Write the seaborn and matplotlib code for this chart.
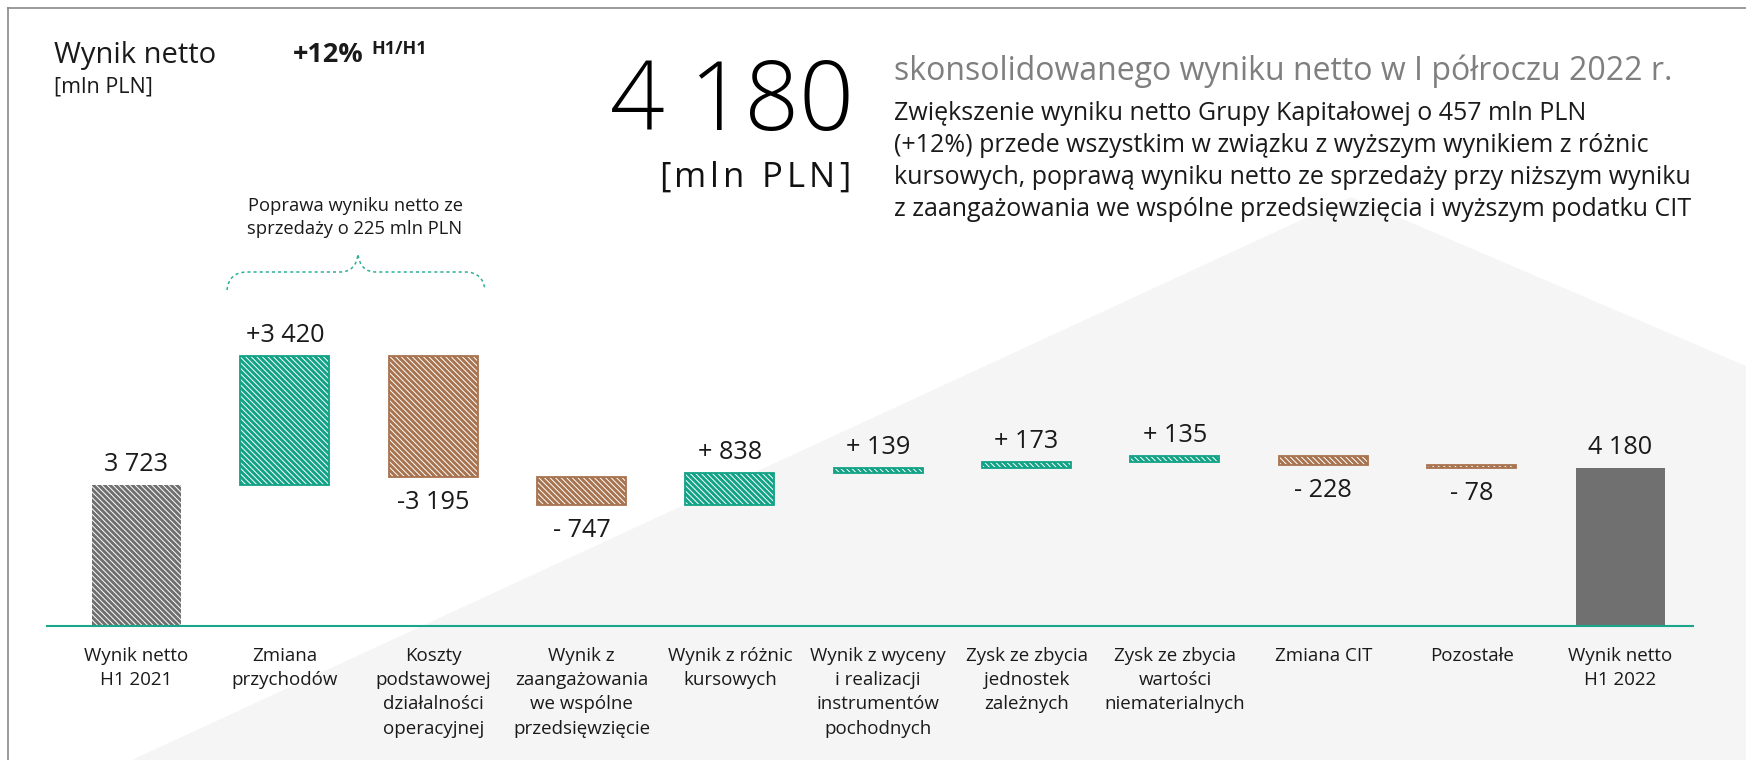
import matplotlib
matplotlib.use("Agg")
import matplotlib.pyplot as plt
from matplotlib.patches import Polygon, Rectangle, PathPatch
from matplotlib.path import Path
import numpy as np
import seaborn as sns

# ---- data -------------------------------------------------------------
categories = [
    "Wynik netto\nH1 2021",
    "Zmiana\nprzychodów",
    "Koszty\npodstawowej\ndziałalności\noperacyjnej",
    "Wynik z\nzaangażowania\nwe wspólne\nprzedsięwzięcie",
    "Wynik z różnic\nkursowych",
    "Wynik z wyceny\ni realizacji\ninstrumentów\npochodnych",
    "Zysk ze zbycia\njednostek\nzależnych",
    "Zysk ze zbycia\nwartości\nniematerialnych",
    "Zmiana CIT",
    "Pozostałe",
    "Wynik netto\nH1 2022",
]
start_value = 3723
changes = [3420, -3195, -747, 838, 139, 173, 135, -228, -78]
end_value = 4180

title = "Wynik netto"
unit = "[mln PLN]"
growth = "+12%"
growth_ref = "H1/H1"
headline_value = "4 180"
headline_text = "skonsolidowanego wyniku netto w I półroczu 2022 r."
summary_lines = [
    "Zwiększenie wyniku netto Grupy Kapitałowej o 457 mln PLN",
    "(+12%) przede wszystkim w związku z wyższym wynikiem z różnic",
    "kursowych, poprawą wyniku netto ze sprzedaży przy niższym wyniku",
    "z zaangażowania we wspólne przedsięwzięcia i wyższym podatku CIT",
]
bracket_note = ["Poprawa wyniku netto ze", "sprzedaży o 225 mln PLN"]

# ---- colours ----------------------------------------------------------
GREEN = "#12a386"
BROWN = "#a8734f"
GREY = "#6f6f6f"
BG = "#f5f5f5"
TEXT = "#1a1a1a"

# ---- waterfall geometry from data ----------------------------------------
levels = np.concatenate([[start_value], start_value + np.cumsum(changes)])
bottoms = [0.0]
spans = [float(start_value)]
for i, d in enumerate(changes):
    lo = min(levels[i], levels[i + 1])
    bottoms.append(float(lo))
    spans.append(float(abs(d)))
bottoms.append(0.0)
spans.append(float(end_value))
values = [start_value] + changes + [end_value]
kinds = ["total"] + ["up" if d > 0 else "down" for d in changes] + ["final"]
bar_colors = {"total": GREY, "up": GREEN, "down": BROWN, "final": "#707070"}


def fmt(v, signed):
    s = f"{abs(v):,}".replace(",", " ")
    if not signed:
        return s
    sign = "+" if v > 0 else "-"
    return sign + ("" if abs(v) >= 1000 else " ") + s


# ---- style --------------------------------------------------------------
sns.set_theme(style="white")
plt.rcParams["font.family"] = ["Open Sans", "DejaVu Sans"]
plt.rcParams["hatch.linewidth"] = 0.7

W, H = 1746, 760
fig = plt.figure(figsize=(W / 100, H / 100), dpi=100)
fig.patch.set_facecolor("white")

# background layer in pixel units (y downwards)
bg = fig.add_axes([0, 0, 1, 1], zorder=-1)
bg.set_xlim(0, W)
bg.set_ylim(H, 0)
bg.axis("off")
bg.add_patch(Polygon([(132, 760), (1351, 197), (1746, 366), (1746, 760)],
                     closed=True, facecolor=BG, edgecolor="none"))
bg.plot([7, W], [7.5, 7.5], color="#8a8a8a", lw=1.2, solid_capstyle="butt")
bg.plot([7.5, 7.5], [7, H], color="#8a8a8a", lw=1.2, solid_capstyle="butt")

# ---- main chart axes -------------------------------------------------------
units_per_px = 26.45
ax_left, ax_right, ax_base, ax_top = 47, 1693, 626, 200
ax = fig.add_axes([ax_left / W, (H - ax_base) / H,
                   (ax_right - ax_left) / W, (ax_base - ax_top) / H])
ax.patch.set_alpha(0)

palette = {c: bar_colors[k] for c, k in zip(categories, kinds)}
sns.barplot(x=categories, y=spans, hue=categories, palette=palette,
            order=categories, hue_order=categories, legend=False,
            errorbar=None, width=0.6, saturation=1, ax=ax)

patches = sorted(ax.patches, key=lambda p: p.get_x())
for p, b, h, k in zip(patches, bottoms, spans, kinds):
    p.set_y(b)
    p.set_height(h)
    col = bar_colors[k]
    p.set_facecolor(col)
    p.set_linewidth(0)
    if k != "final":
        p.set_edgecolor("white")
        p.set_hatch("\\\\\\\\\\\\")
        p.set_linewidth(0)
    if k in ("up", "down"):
        ax.add_patch(Rectangle((p.get_x(), b), p.get_width(), h, fill=False,
                               edgecolor=col, linewidth=1.3, zorder=3))

# value labels
for i, (v, b, h, k) in enumerate(zip(values, bottoms, spans, kinds)):
    signed = k in ("up", "down")
    label = fmt(v, signed)
    if k == "down":
        ax.annotate(label, (i, b), xytext=(0, -13), textcoords="offset pixels",
                    ha="center", va="top", fontsize=18.2, color=TEXT)
    else:
        ax.annotate(label, (i, b + h), xytext=(0, 14), textcoords="offset pixels",
                    ha="center", va="baseline", fontsize=18.2, color=TEXT)

n = len(categories)
ax.set_xlim(-0.603, n - 1 + 0.492)
ax.set_ylim(0, (ax_base - ax_top) * units_per_px)
ax.set_xlabel("")
ax.set_ylabel("")
ax.set_yticks([])
for s in ("left", "right", "top"):
    ax.spines[s].set_visible(False)
ax.spines["bottom"].set_color("#19a68a")
ax.spines["bottom"].set_linewidth(1.5)
ax.tick_params(axis="x", length=0, pad=15, labelsize=13.5, labelcolor=TEXT)
for t in ax.get_xticklabels():
    t.set_linespacing(1.45)

# ---- header texts ---------------------------------------------------------
bg.text(54, 63, title, fontsize=21, color=TEXT, va="baseline")
bg.text(54, 93, unit, fontsize=15.5, color=TEXT, va="baseline")
bg.text(293, 62, growth, fontsize=19.5, fontweight="bold", color=TEXT, va="baseline")
bg.text(371, 54, growth_ref, fontsize=13, fontweight="bold", color=TEXT, va="baseline")

bg.text(732, 130, headline_value, fontsize=69, fontweight="light", color="black",
        ha="center", va="baseline")

renderer = fig.canvas.get_renderer()


def tracked_text(x_right, y, s, tracking, **kw):
    def width(t):
        tt = bg.text(0, 0, t, **kw)
        w = tt.get_window_extent(renderer).width
        tt.remove()
        return w
    base = width("|")
    offs = [width(s[:i] + "|") - base for i in range(len(s))]
    total = width(s) + tracking * (len(s) - 1)
    x0 = x_right - total
    for i, ch in enumerate(s):
        if ch != " ":
            bg.text(x0 + offs[i] + i * tracking, y, ch, ha="left", va="baseline", **kw)


tracked_text(850, 187, unit, 4.0, fontsize=25, fontweight="normal", color="#111111")

bg.text(894, 80, headline_text, fontsize=23, color="#7f7f7f", va="baseline")
for j, line in enumerate(summary_lines):
    bg.text(894, 120 + 32 * j, line, fontsize=18, color=TEXT, va="baseline")

# ---- bracket annotation -----------------------------------------------------
for j, line in enumerate(bracket_note):
    bg.text(355, 211 + 23 * j, line, fontsize=13.2, color=TEXT, ha="center",
            va="baseline")
verts = [(227, 290), (229, 272), (247, 272),
         (340, 272),
         (356, 272), (358, 254),
         (360, 272), (376, 272),
         (465, 272),
         (483, 272), (485, 290)]
codes = [Path.MOVETO, Path.CURVE3, Path.CURVE3,
         Path.LINETO,
         Path.CURVE3, Path.CURVE3,
         Path.CURVE3, Path.CURVE3,
         Path.LINETO,
         Path.CURVE3, Path.CURVE3]
bg.add_patch(PathPatch(Path(verts, codes), fill=False, edgecolor="#2bb095",
                       linewidth=1.1, linestyle=(0, (2, 2))))

fig.savefig("out.png", dpi=100, facecolor="white")
